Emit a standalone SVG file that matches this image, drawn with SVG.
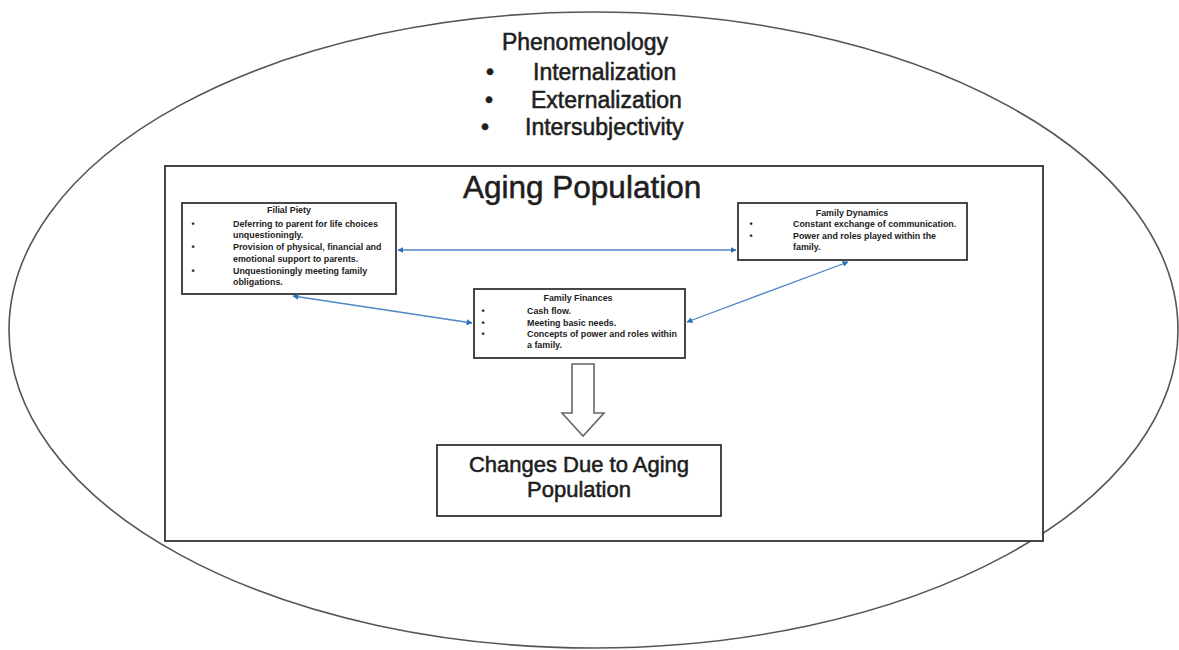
<svg xmlns="http://www.w3.org/2000/svg" width="1179" height="650" viewBox="0 0 1179 650">
<defs>
<style>
.frame{fill:none;stroke:#555;stroke-width:1.6}
.box{fill:#fff;stroke:#333;stroke-width:1.8}
.big{font-family:"Liberation Sans",Arial,sans-serif;fill:#1e1e1e;stroke:#1e1e1e;stroke-width:0.55}
.small{font-family:"Liberation Sans",Arial,sans-serif;font-weight:bold;font-size:8.9px;fill:#222}
.conn{fill:none;stroke:#4f86c6;stroke-width:1.3}
.block{fill:#fff;stroke:#666;stroke-width:1.6;stroke-linejoin:miter}
</style>
<marker id="ah" viewBox="0 0 10 10" refX="9" refY="5" markerWidth="6" markerHeight="6" orient="auto-start-reverse" markerUnits="userSpaceOnUse">
<path d="M0,0 L10,5 L0,10 z" fill="#2f6db5"/>
</marker>
</defs>
<rect width="1179" height="650" fill="#fff"/>

<g id="outer-ellipse">
<ellipse class="frame" cx="593.5" cy="330" rx="584.5" ry="318"/>
</g>

<g id="phenomenology">
<text class="big" x="585" y="50" font-size="23" text-anchor="middle">Phenomenology</text>
<text class="big" x="490" y="80" font-size="23" text-anchor="middle">•</text>
<text class="big" x="533" y="80" font-size="23">Internalization</text>
<text class="big" x="489" y="108" font-size="23" text-anchor="middle">•</text>
<text class="big" x="531" y="108" font-size="23">Externalization</text>
<text class="big" x="485" y="135" font-size="23" text-anchor="middle">•</text>
<text class="big" x="525" y="135" font-size="23">Intersubjectivity</text>
</g>

<g id="aging-population">
<rect class="box" x="165" y="166" width="878" height="375" fill="none"/>
<text class="big" x="463" y="198" font-size="31.5">Aging Population</text>
</g>

<g id="filial-piety">
<rect class="box" x="182" y="203" width="214" height="91"/>
<text class="small" x="289" y="213" text-anchor="middle">Filial Piety</text>
<text class="small" x="193" y="227" text-anchor="middle">•</text>
<text class="small" x="233" y="227">Deferring to parent for life choices</text>
<text class="small" x="233" y="238">unquestioningly.</text>
<text class="small" x="193" y="250" text-anchor="middle">•</text>
<text class="small" x="233" y="250">Provision of physical, financial and</text>
<text class="small" x="233" y="262">emotional support to parents.</text>
<text class="small" x="193" y="274" text-anchor="middle">•</text>
<text class="small" x="233" y="274">Unquestioningly meeting family</text>
<text class="small" x="233" y="285">obligations.</text>
</g>

<g id="family-dynamics">
<rect class="box" x="738" y="203" width="229" height="57"/>
<text class="small" x="852" y="216" text-anchor="middle">Family Dynamics</text>
<text class="small" x="751" y="227" text-anchor="middle">•</text>
<text class="small" x="793" y="227">Constant exchange of communication.</text>
<text class="small" x="751" y="239" text-anchor="middle">•</text>
<text class="small" x="793" y="239">Power and roles played within the</text>
<text class="small" x="793" y="250">family.</text>
</g>

<g id="family-finances">
<rect class="box" x="474" y="289" width="211" height="69"/>
<text class="small" x="578" y="301" text-anchor="middle">Family Finances</text>
<text class="small" x="483" y="314" text-anchor="middle">•</text>
<text class="small" x="527" y="314">Cash flow.</text>
<text class="small" x="483" y="326" text-anchor="middle">•</text>
<text class="small" x="527" y="326">Meeting basic needs.</text>
<text class="small" x="483" y="337" text-anchor="middle">•</text>
<text class="small" x="527" y="337">Concepts of power and roles within</text>
<text class="small" x="527" y="348">a family.</text>
</g>

<g id="changes">
<rect class="box" x="437" y="445" width="284" height="71"/>
<text class="big" x="579" y="472" font-size="22" text-anchor="middle">Changes Due to Aging</text>
<text class="big" x="579" y="497" font-size="22" text-anchor="middle">Population</text>
</g>

<g id="connectors">
<line class="conn" x1="398" y1="250" x2="736" y2="250" marker-start="url(#ah)" marker-end="url(#ah)"/>
<line class="conn" x1="293" y1="296" x2="472" y2="323" marker-start="url(#ah)" marker-end="url(#ah)"/>
<line class="conn" x1="848" y1="262" x2="687" y2="322" marker-start="url(#ah)" marker-end="url(#ah)"/>
<path class="block" d="M572,364 L594,364 L594,413 L604,413 L583,436 L562,413 L572,413 Z"/>
</g>
</svg>
